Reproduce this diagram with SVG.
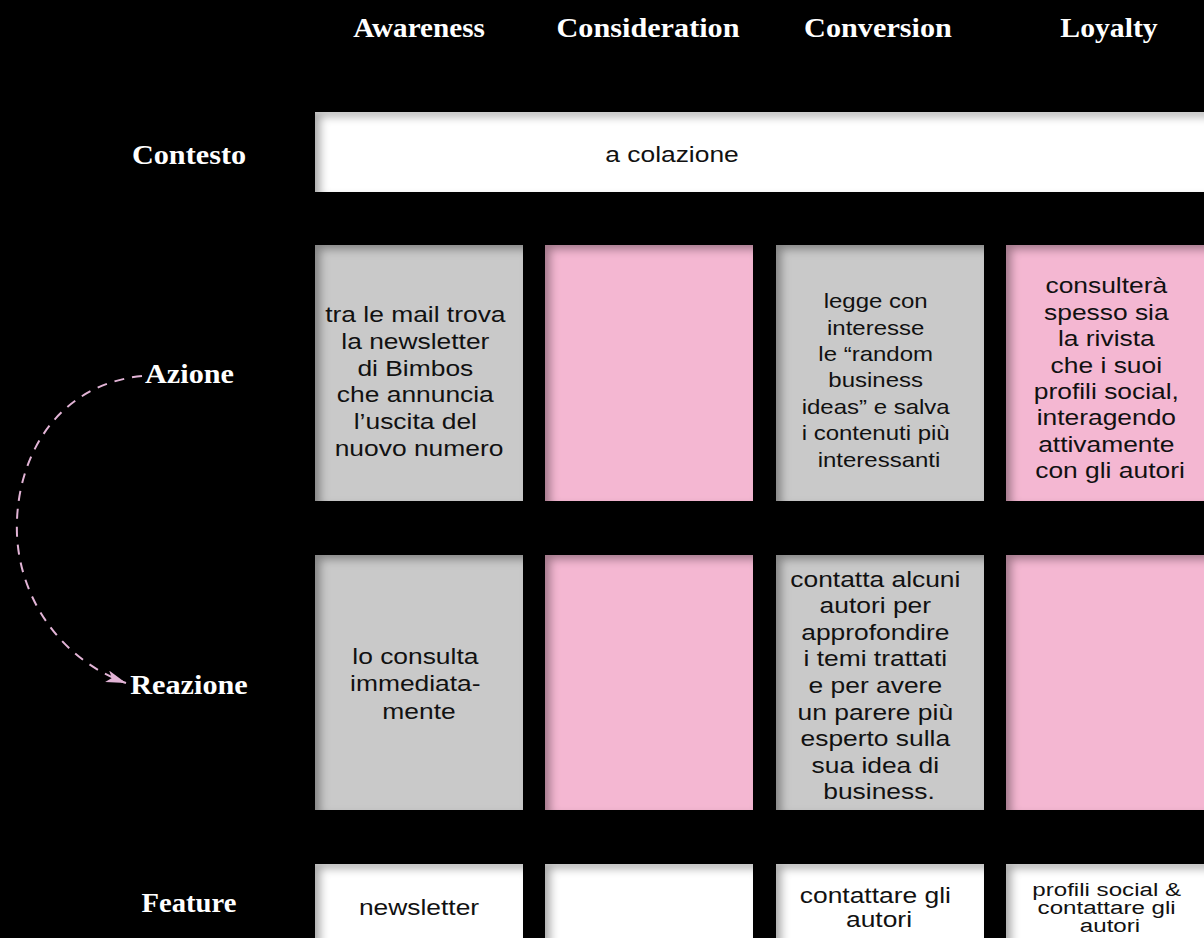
<svg xmlns="http://www.w3.org/2000/svg" width="1204" height="938" viewBox="0 0 1204 938">
  <style>
    .head { font-family: "Liberation Serif", "Times New Roman", serif; font-weight: bold; font-size: 27px; fill: #ffffff; text-anchor: middle; }
    .body { font-family: "Liberation Sans", Arial, Helvetica, sans-serif; font-size: 22px; fill: #111111; text-anchor: middle; }
    .small { font-size: 20px; }
    .tiny { font-size: 19px; }
    .gray { fill: #c9c9c9; }
    .pink { fill: #f4b7d2; }
    .white { fill: #ffffff; }
    .cell { filter: url(#inset); }
    .link { fill: none; stroke: #e2b4d6; stroke-width: 2; stroke-dasharray: 10 8; }
  </style>
  <defs>
    <!-- soft inner shadow along the top and left edges of every cell -->
    <filter id="inset" x="-10%" y="-10%" width="120%" height="120%">
      <feComponentTransfer in="SourceAlpha">
        <feFuncA type="table" tableValues="1 0"/>
      </feComponentTransfer>
      <feGaussianBlur stdDeviation="4.5"/>
      <feOffset dx="6" dy="5" result="shade"/>
      <feFlood flood-color="#000000" flood-opacity="0.6"/>
      <feComposite in2="shade" operator="in"/>
      <feComposite in2="SourceAlpha" operator="in" result="inner"/>
      <feMerge>
        <feMergeNode in="SourceGraphic"/>
        <feMergeNode in="inner"/>
      </feMerge>
    </filter>
    <marker id="arrow" markerUnits="userSpaceOnUse" markerWidth="22" markerHeight="14" refX="20" refY="6" orient="auto">
      <path d="M0,0 L20,6 L0,12 L5,6 z" fill="#e2b4d6"/>
    </marker>
  </defs>

  <rect x="0" y="0" width="1204" height="938" fill="#000000"/>

  <!-- column headers -->
  <g id="headers">
    <text class="head" transform="translate(419 37) scale(1.08 1)">Awareness</text>
    <text class="head" transform="translate(648 37) scale(1.12 1)">Consideration</text>
    <text class="head" transform="translate(878 37) scale(1.12 1)">Conversion</text>
    <text class="head" transform="translate(1109 37) scale(1.1 1)">Loyalty</text>
  </g>

  <!-- row labels -->
  <g id="labels">
    <text class="head" transform="translate(189 164) scale(1.12 1)">Contesto</text>
    <text class="head" transform="translate(189.5 383) scale(1.12 1)">Azione</text>
    <text class="head" transform="translate(189 694) scale(1.12 1)">Reazione</text>
    <text class="head" transform="translate(189 912) scale(1.06 1)">Feature</text>
  </g>

  <!-- context row -->
  <g id="contesto">
    <rect class="cell white" x="315" y="112" width="899" height="80"/>
    <text class="body" transform="translate(672 162) scale(1.2 1)">a colazione</text>
  </g>

  <!-- action row -->
  <g id="azione-awareness">
    <rect class="cell gray" x="315" y="245" width="208" height="256"/>
    <text class="body" transform="translate(419 0) scale(1.2 1)">
      <tspan x="0" y="322.3">tra le mail trova</tspan>
      <tspan x="0" y="349">la newsletter</tspan>
      <tspan x="0" y="375.7">di Bimbos</tspan>
      <tspan x="0" y="402.3">che annuncia</tspan>
      <tspan x="0" y="429">l’uscita del</tspan>
      <tspan x="0" y="455.7">nuovo numero</tspan>
    </text>
  </g>
  <g id="azione-consideration">
    <rect class="cell pink" x="545" y="245" width="208" height="256"/>
  </g>
  <g id="azione-conversion">
    <rect class="cell gray" x="776" y="245" width="208" height="256"/>
    <text class="body small" transform="translate(879 0) scale(1.2 1)">
      <tspan x="0" y="308.3">legge con</tspan>
      <tspan x="0" y="334.7">interesse</tspan>
      <tspan x="0" y="361.1">le “random</tspan>
      <tspan x="0" y="387.5">business</tspan>
      <tspan x="0" y="413.9">ideas” e salva</tspan>
      <tspan x="0" y="440.3">i contenuti più</tspan>
      <tspan x="0" y="466.7">interessanti</tspan>
    </text>
  </g>
  <g id="azione-loyalty">
    <rect class="cell pink" x="1006" y="245" width="208" height="256"/>
    <text class="body" transform="translate(1110 0) scale(1.2 1)">
      <tspan x="0" y="293.3">consulterà</tspan>
      <tspan x="0" y="319.7">spesso sia</tspan>
      <tspan x="0" y="346.2">la rivista</tspan>
      <tspan x="0" y="372.6">che i suoi</tspan>
      <tspan x="0" y="399">profili social,</tspan>
      <tspan x="0" y="425.5">interagendo</tspan>
      <tspan x="0" y="451.9">attivamente</tspan>
      <tspan x="0" y="478.3">con gli autori</tspan>
    </text>
  </g>

  <!-- reaction row -->
  <g id="reazione-awareness">
    <rect class="cell gray" x="315" y="555" width="208" height="255"/>
    <text class="body" transform="translate(419 0) scale(1.2 1)">
      <tspan x="0" y="664.3">lo consulta</tspan>
      <tspan x="0" y="691.5">immediata-</tspan>
      <tspan x="0" y="718.7">mente</tspan>
    </text>
  </g>
  <g id="reazione-consideration">
    <rect class="cell pink" x="545" y="555" width="208" height="255"/>
  </g>
  <g id="reazione-conversion">
    <rect class="cell gray" x="776" y="555" width="208" height="255"/>
    <text class="body" transform="translate(879 0) scale(1.2 1)">
      <tspan x="0" y="586.7">contatta alcuni</tspan>
      <tspan x="0" y="613.3">autori per</tspan>
      <tspan x="0" y="639.9">approfondire</tspan>
      <tspan x="0" y="666.5">i temi trattati</tspan>
      <tspan x="0" y="693.1">e per avere</tspan>
      <tspan x="0" y="719.7">un parere più</tspan>
      <tspan x="0" y="746.3">esperto sulla</tspan>
      <tspan x="0" y="772.9">sua idea di</tspan>
      <tspan x="0" y="799.5">business.</tspan>
    </text>
  </g>
  <g id="reazione-loyalty">
    <rect class="cell pink" x="1006" y="555" width="208" height="255"/>
  </g>

  <!-- feature row -->
  <g id="feature-awareness">
    <rect class="cell white" x="315" y="864" width="208" height="90"/>
    <text class="body" transform="translate(419 915) scale(1.2 1)">newsletter</text>
  </g>
  <g id="feature-consideration">
    <rect class="cell white" x="545" y="864" width="208" height="90"/>
  </g>
  <g id="feature-conversion">
    <rect class="cell white" x="776" y="864" width="208" height="90"/>
    <text class="body" transform="translate(879 0) scale(1.2 1)">
      <tspan x="0" y="903.5">contattare gli</tspan>
      <tspan x="0" y="927.5">autori</tspan>
    </text>
  </g>
  <g id="feature-loyalty">
    <rect class="cell white" x="1006" y="864" width="208" height="90"/>
    <text class="body tiny" transform="translate(1110 0) scale(1.27 1)">
      <tspan x="0" y="895.7">profili social &amp;</tspan>
      <tspan x="0" y="914.2">contattare gli</tspan>
      <tspan x="0" y="932.5">autori</tspan>
    </text>
  </g>

  <!-- connectors -->
  <g id="connectors">
    <path class="link" d="M142,376 C55,385 14,460 17,535 C20,600 62,660 126,683" marker-end="url(#arrow)"/>
  </g>
</svg>
